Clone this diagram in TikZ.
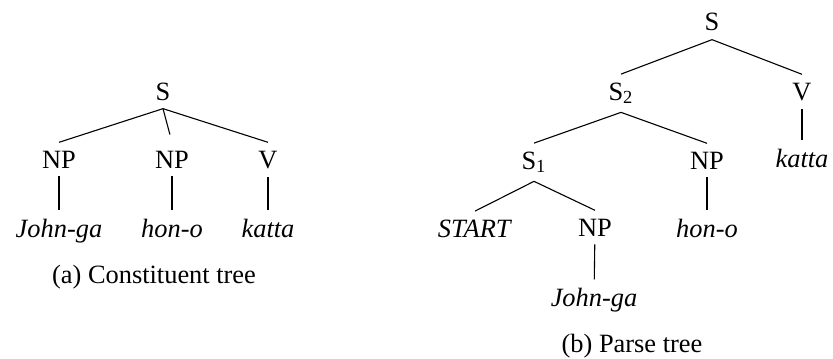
\documentclass[tikz,border=0pt]{standalone}
\usepackage{fontspec}
\setmainfont{Liberation Serif}
\tikzset{
  lab/.style={inner sep=4pt, anchor=base, font=\fontsize{13.2}{16}\selectfont},
  edge/.style={line width=0.55pt}
}
\begin{document}
\begin{tikzpicture}[x=0.5pt,y=-0.5pt]
                \useasboundingbox (0,0) rectangle (833,358);
                \node[lab] (sa) at (163,100) {S};
                \node[lab] (npa1) at (59,168) {NP};
                \node[lab] (npa2) at (172,168) {NP};
                \node[lab] (va) at (268,168) {V};
                \node[lab] (johna) at (59,237) {\textit{John-ga}};
                \node[lab] (hona) at (172,237) {\textit{hon-o}};
                \node[lab] (kattaa) at (268,237) {\textit{katta}};
                \node[lab] (capa) at (154,283) {(a) Constituent tree};

                \node[lab] (sb) at (712,31) {S};
                \node[lab] (sbtwo) at (621,100) {S\textsubscript{2}};
                \node[lab] (vb) at (802,100) {V};
                \node[lab] (sbone) at (534,169) {S\textsubscript{1}};
                \node[lab] (npb) at (707,169) {NP};
                \node[lab] (kattab) at (802,167) {\textit{katta}};
                \node[lab] (start) at (475,237) {\textit{START}};
                \node[lab] (npc) at (595,236) {NP};
                \node[lab] (honb) at (707,237) {\textit{hon-o}};
                \node[lab] (johnb) at (594,306) {\textit{John-ga}};
                \node[lab] (capb) at (632,352) {(b) Parse tree};

                \draw[edge] (sa.south) to (npa1.north); \draw[edge,shorten >=4pt] (sa.south) to (npa2.north); \draw[edge] (sa.south) to (va.north);
                \draw[edge] (npa1) to (johna); \draw[edge] (npa2) to (hona); \draw[edge] (va) to (kattaa);
                \draw[edge] (sb.south) to (sbtwo.north); \draw[edge] (sb.south) to (vb.north); \draw[edge] (vb) to (kattab);
                \draw[edge] (sbtwo.south) to (sbone.north); \draw[edge] (sbtwo.south) to (npb.north); \draw[edge] (npb) to (honb);
                \draw[edge] (sbone.south) to (start.north); \draw[edge] (sbone.south) to (npc.north); \draw[edge] (npc) to (johnb);
            \end{tikzpicture}
\end{document}
